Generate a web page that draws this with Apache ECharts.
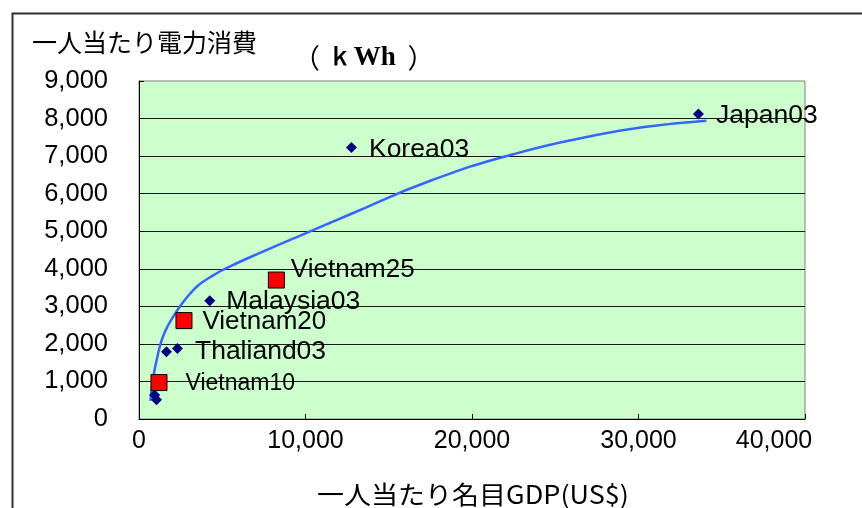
<!DOCTYPE html>
<html>
<head>
<meta charset="utf-8">
<script src="https://cdn.jsdelivr.net/npm/echarts@6/dist/echarts.min.js"></script>
<style>
  html, body { margin: 0; padding: 0; background: #ffffff; }
  #chart { width: 862px; height: 508px; }
</style>
</head>
<body>
<div id="chart"></div>
<script>
// Per-capita nominal GDP (US$) vs per-capita electricity consumption (kWh)
const countryNames = ['Japan03', 'Korea03', 'Malaysia03', 'Thaliand03', '', '', ''];
const countryGdp   = [33600, 12760, 4250, 2310, 1650, 940, 1050];
const countryKwh   = [8120, 7230, 3150, 1880, 1790, 640, 510];

const vietnamNames = ['Vietnam10', 'Vietnam20', 'Vietnam25'];
const vietnamGdp   = [1200, 2700, 8250];
const vietnamKwh   = [970, 2620, 3700];

// Trend curve through the observations
const trendGdp = [685, 793, 913, 1063, 1243, 1453, 1724, 2042, 2354, 2703, 3075, 3447, 3826, 4246, 4847,
                  5447, 6529, 7652, 9652, 12655, 17459, 22667, 27471, 30475, 34078];
const trendKwh = [480, 905, 1251, 1571, 1917, 2210, 2476, 2716, 2929, 3142, 3341, 3514, 3648, 3767, 3927,
                  4060, 4280, 4499, 4877, 5445, 6337, 7074, 7561, 7782, 7942];

const xTicks = [0, 10000, 20000, 30000, 40000];
const yTicks = [0, 1000, 2000, 3000, 4000, 5000, 6000, 7000, 8000, 9000];

const yTitle = '一人当たり電力消費';
const xTitle = '一人当たり名目GDP(US$)';

const fmt = v => v.toLocaleString('en-US');

// label placement per point: [distance to the right, vertical shift]
const countryLabelShift = [[12, 2], [12, 2], [11, 1], [12, 3], [0, 0], [0, 0], [0, 0]];
const vietnamLabelShift = [[18, 1], [10, 1], [6, -10]];
const vietnamLabelSize  = [23, 26, 26];

const countryData = countryGdp.map((g, i) => ({
  name: countryNames[i],
  value: [g, countryKwh[i]],
  label: {
    show: countryNames[i] !== '',
    distance: countryLabelShift[i][0],
    offset: [0, countryLabelShift[i][1]]
  }
}));

const vietnamData = vietnamGdp.map((g, i) => ({
  name: vietnamNames[i],
  value: [g, vietnamKwh[i]],
  label: {
    distance: vietnamLabelShift[i][0],
    offset: [0, vietnamLabelShift[i][1]],
    fontSize: vietnamLabelSize[i]
  }
}));

const trendData = trendGdp.map((g, i) => [g, trendKwh[i]]);

const labelFont = '"Liberation Sans", Arial, sans-serif';
const cjkFont = '"Noto Sans CJK JP", sans-serif';
const serifFont = '"Liberation Serif", "DejaVu Serif", serif';

const xMax = xTicks[xTicks.length - 1];

const chart = echarts.init(document.getElementById('chart'), null, { renderer: 'canvas' });

chart.setOption({
  animation: false,
  backgroundColor: '#ffffff',
  grid: {
    left: 139, top: 81, right: 57, bottom: 89,
    show: true,
    backgroundColor: '#CCFFCC',
    borderColor: '#808080',
    borderWidth: 1
  },
  xAxis: {
    type: 'value',
    min: xTicks[0],
    max: xMax,
    interval: xTicks[1] - xTicks[0],
    axisLine: { show: true, lineStyle: { color: '#000', width: 1 } },
    axisTick: { show: true, inside: true, length: 5, lineStyle: { color: '#000' } },
    splitLine: { show: false },
    axisLabel: {
      margin: 10,
      color: '#000',
      fontSize: 25,
      fontFamily: labelFont,
      // the last label is pulled left so it stays inside the frame
      formatter: v => (v === xMax ? '{last|' + fmt(v) + '}' : fmt(v)),
      rich: {
        last: { fontSize: 25, fontFamily: labelFont, color: '#000', padding: [0, 62, 0, 0] }
      }
    }
  },
  yAxis: {
    type: 'value',
    min: yTicks[0],
    max: yTicks[yTicks.length - 1],
    interval: yTicks[1] - yTicks[0],
    axisLine: { show: true, lineStyle: { color: '#000', width: 1 } },
    axisTick: { show: true, inside: true, length: 5, lineStyle: { color: '#000' } },
    splitLine: { show: true, showMaxLine: false, lineStyle: { color: '#1a1a1a', width: 1 } },
    axisLabel: {
      margin: 31,
      color: '#000',
      fontSize: 25.5,
      fontFamily: labelFont,
      formatter: v => fmt(v)
    }
  },
  series: [
    {
      type: 'line',
      data: trendData,
      smooth: 0.5,
      showSymbol: false,
      lineStyle: { color: '#3366FF', width: 2.5 },
      z: 2
    },
    {
      type: 'scatter',
      data: countryData,
      symbol: 'diamond',
      symbolSize: 11,
      itemStyle: { color: '#000080', opacity: 1 },
      label: {
        show: true,
        position: 'right',
        formatter: '{b}',
        color: '#000',
        fontSize: 26.5,
        fontFamily: labelFont
      },
      z: 3
    },
    {
      type: 'scatter',
      data: vietnamData,
      symbol: 'rect',
      symbolSize: 16,
      itemStyle: { color: '#FF0000', borderColor: '#000', borderWidth: 1, opacity: 1 },
      label: {
        show: true,
        position: 'right',
        formatter: '{b}',
        color: '#000',
        fontSize: 26,
        fontFamily: labelFont
      },
      z: 4
    }
  ],
  graphic: [
    {
      type: 'rect',
      shape: { x: 12.5, y: 13.5, width: 1000, height: 1000 },
      style: { fill: 'none', stroke: '#303030', lineWidth: 2 },
      silent: true,
      z: 10
    },
    {
      type: 'text',
      left: 32, top: 30,
      style: { text: yTitle, fontSize: 25, fontFamily: cjkFont, fill: '#000' }
    },
    {
      type: 'text',
      x: 293, y: 58,
      style: {
        text: '{p|（}{t| ｋWh }{p|）}',
        verticalAlign: 'middle',
        rich: {
          p: { fontSize: 27, fontFamily: cjkFont, fontWeight: 'normal', fill: '#000' },
          t: { fontSize: 27, fontFamily: serifFont, fontWeight: 'bold', fill: '#000', padding: [0, 5, 0, 0] }
        }
      }
    },
    {
      type: 'text',
      x: 473, y: 494,
      scaleX: 1.08,
      style: {
        text: xTitle, fontSize: 25, fontFamily: cjkFont, fill: '#000',
        align: 'center', verticalAlign: 'middle'
      }
    }
  ]
});
</script>
</body>
</html>
